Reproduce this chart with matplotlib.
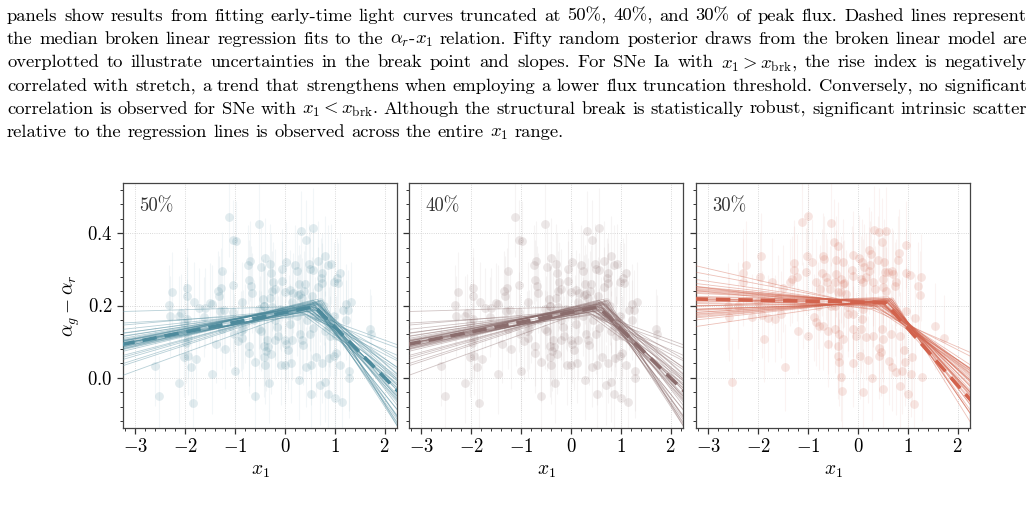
import numpy as np
import matplotlib.pyplot as plt
from matplotlib.ticker import AutoMinorLocator, MultipleLocator

plt.rcParams['font.family'] = 'serif'
plt.rcParams['font.serif'] = ['cmr10']
plt.rcParams['mathtext.fontset'] = 'cm'
plt.rcParams['axes.formatter.use_mathtext'] = True
plt.rcParams['axes.unicode_minus'] = True

W, H = 1034, 509

x1_a = [-1.125, -0.52, -1.05, -0.99, -0.71, -0.74, -1.27, -0.48, -0.73, -0.69, -0.67, -1.29, -1.35,
        -1.33, -1.05, -2.26, -1.96, -1.97, -1.82, -2.33, -1.73, -1.60, -1.50, -1.46, -0.86, -2.31,
        -2.13, -2.08, -1.96, -2.03, -1.31, -1.23, -1.04, -1.62, -0.53, -0.51, -1.99, -1.94, -2.03,
        -1.95, -1.79, -1.89, -2.60, -2.13, -2.53, -1.84, -1.47, -1.39, -1.21, -0.94, -0.86, -1.00,
        -0.73, -0.73, -0.61, -0.61, -0.89, -0.84, -0.52, -1.26, -1.02, -1.10, -0.80, -0.62,
        0.333, 0.569, 0.42, -0.406, -0.30, -0.27, -0.24, -0.06, 0.03, 0.20, 0.25, -0.05, 0.49, 0.50,
        0.57, 0.67, 0.80, 0.86, 0.93, 0.74, 0.73, 1.11, 1.05, 0.99, 1.07, 0.74, 0.67, 0.28, 0.41,
        0.10, 0.00, -0.20, -0.25, -0.30, -0.44, -0.42, 1.23, 1.33, 1.16, 1.27, 1.23, 1.70, 1.72,
        -0.47, -0.36, -0.33, -0.14, -0.20, 0.00, 0.03, 0.30, 0.35, 0.50, 0.57, 0.81, 0.91, -0.41,
        -0.38, -0.27, -0.41, -0.39, -0.07, 0.00, 0.13, 0.06, 0.28, 0.43, 0.53, 0.62, 0.74, 0.71,
        0.80, 0.52, 0.87, 1.01, 1.14, 1.10, 1.29, 1.29, 0.89, 0.99, 1.03, -0.32, 0.15, 0.37, 1.03,
        0.98, 0.91, -0.20, 0.10, 0.25, 0.45, 0.60, 0.80, -0.10, 0.15, 0.35, 0.55, 0.70, -0.35,
        -0.15, 0.17, 0.27, 0.30, 0.38, -0.42, -0.25, -0.08, 0.08, 0.33, 0.50, 0.66, 0.78, 0.88]
dy_a = [0.444, 0.426, 0.381, 0.379, 0.323, 0.313, 0.294, 0.305, 0.270, 0.254, 0.235, 0.249, 0.240,
        0.226, 0.256, 0.237, 0.248, 0.225, 0.210, 0.202, 0.193, 0.193, 0.207, 0.203, 0.211, 0.172,
        0.172, 0.178, 0.163, 0.152, 0.184, 0.187, 0.183, 0.168, 0.189, 0.171, 0.097, 0.111, 0.057,
        0.062, 0.053, 0.030, 0.032, -0.014, -0.049, -0.069, 0.011, 0.095, 0.080, 0.101, 0.109, 0.020,
        0.088, 0.069, 0.045, -0.049, 0.129, 0.134, 0.134, 0.134, 0.121, 0.143, 0.150, 0.160,
        0.406, 0.413, 0.380, 0.331, 0.315, 0.290, 0.266, 0.300, 0.321, 0.313, 0.295, 0.267, 0.315,
        0.300, 0.298, 0.323, 0.337, 0.313, 0.315, 0.290, 0.277, 0.289, 0.276, 0.266, 0.262, 0.262,
        0.252, 0.258, 0.258, 0.244, 0.238, 0.246, 0.240, 0.222, 0.217, 0.198, 0.205, 0.210, 0.187,
        0.187, 0.161, 0.136, 0.120, 0.129, 0.106, 0.086, 0.115, 0.106, 0.104, 0.095, 0.120, 0.106,
        0.120, 0.138, 0.129, 0.115, 0.087, 0.074, 0.066, 0.057, 0.037, 0.035, 0.037, 0.040, 0.076,
        -0.005, 0.030, 0.035, 0.058, 0.041, -0.020, -0.012, -0.044, -0.044, -0.055, -0.066, 0.037,
        0.018, 0.000, 0.055, 0.060, 0.069, -0.015, 0.104, 0.092, 0.115, 0.171, 0.152, 0.160, 0.150,
        0.170, 0.160, 0.170, 0.180, 0.190, 0.210, 0.220, 0.225, 0.210, 0.180, 0.140, 0.235, 0.228,
        0.232, 0.240, 0.200, 0.195, 0.185, 0.175, 0.195, 0.185, 0.165, 0.200, 0.140]

# SNe
x1_b = [-1.12, -1.00, -0.55, -0.47, -2.25, -1.95, -2.31, -2.30, -1.97, -1.73, -1.50, -1.28, -1.29,
        -1.33, -1.37, -1.23, -1.03, -0.93, -1.05, -0.70, -0.68, -0.73, -0.65, -0.63, -0.85, -0.77,
        -2.61, -2.59, -2.13, -1.93, -1.80, -1.67, -1.55, -1.89, -1.21, -1.00, -0.88, -0.85, -0.79,
        -0.70, -0.61, -0.61, -1.47, -2.52, -2.00, -1.60, -1.10, -0.80, -0.55, -2.40,
        0.32, 0.42, 0.57, 0.48, 0.96, -0.40, 0.23, 0.27, 0.82, 0.81, -0.09, 0.02, 0.09, 0.13, -0.44,
        -0.30, 0.25, 0.22, 0.40, 0.52, 0.54, -0.44, -0.45, -0.34, -0.30, -0.12, -0.09, 0.07, 0.17,
        0.11, 0.30, 0.50, 0.60, 0.68, 0.70, 0.77, 0.74, 0.96, 1.04, 1.26, 1.21, 1.24, 0.34, 0.50,
        0.57, -0.57, -0.40, -0.24, -0.27, -0.34, 0.97, 1.14, 1.55, 1.72, -0.45, -0.37, -0.30, -0.40,
        -0.20, -0.10, 0.08, -0.10, 0.07, -0.03, 0.17, 0.30, 0.48, 0.50, 0.67, 0.84, -0.39, -0.37,
        -0.09, 0.05, 0.20, 0.42, 0.47, 0.42, 0.62, 0.69, 0.77, 0.89, 0.94, 0.92, 1.09, 1.07, 1.28,
        -0.34, 0.28, -0.32, 0.11, 0.50, 0.85, 1.01, 1.13, -0.45, -0.20, 0.10, 0.30, 0.75, 0.88]
dy_b = [0.431, 0.448, 0.429, 0.374, 0.312, 0.336, 0.291, 0.264, 0.279, 0.266, 0.247, 0.317, 0.299,
        0.273, 0.264, 0.278, 0.336, 0.319, 0.293, 0.336, 0.328, 0.290, 0.280, 0.264, 0.264, 0.246,
        0.198, 0.167, 0.167, 0.174, 0.165, 0.163, 0.176, 0.108, 0.130, 0.117, 0.167, 0.154, 0.143,
        0.143, 0.130, 0.094, 0.029, -0.012, 0.210, 0.220, 0.200, 0.200, 0.200, 0.200,
        0.409, 0.404, 0.406, 0.376, 0.368, 0.365, 0.353, 0.342, 0.345, 0.326, 0.340, 0.330, 0.319,
        0.305, 0.326, 0.319, 0.312, 0.296, 0.326, 0.320, 0.293, 0.287, 0.264, 0.273, 0.259, 0.299,
        0.282, 0.273, 0.280, 0.264, 0.264, 0.273, 0.292, 0.294, 0.287, 0.264, 0.255, 0.290, 0.283,
        0.278, 0.255, 0.229, 0.245, 0.250, 0.241, 0.245, 0.236, 0.232, 0.262, 0.236, 0.186, 0.166,
        0.143, 0.110, 0.135, 0.121, 0.108, 0.089, 0.177, 0.177, 0.163, 0.135, 0.135, 0.117, 0.114,
        0.115, 0.135, 0.108, 0.122, 0.117, 0.062, 0.043, 0.040, 0.062, 0.050, 0.082, 0.071, 0.062,
        0.046, 0.029, 0.017, 0.020, 0.044, 0.076, 0.057, 0.011, 0.002, 0.002, 0.000, -0.035, -0.040,
        -0.030, -0.023, -0.044, -0.072, 0.200, 0.195, 0.190, 0.205, 0.180, 0.160]

err_a = 0.11
err_b = 0.12

# posterior draws: break point, value at the break, slope below / above the break
brk_a = [0.55, 0.62, 0.48, 0.70, 0.35, 0.58, 0.66, 0.52, 0.25, 0.60, 0.75, 0.45, 0.68, 0.56, 0.40,
         0.63, 0.50, 0.60, 0.30, 0.59, 0.64, 0.54, 0.20, 0.61, 0.67, 0.47, 0.57, 0.38, 0.65, 0.53,
         0.71, 0.44, 0.60, 0.58, 0.15, 0.69, 0.51, 0.62, 0.42, 0.56]
ybrk_a = [0.197, 0.210, 0.185, 0.204, 0.195, 0.206, 0.203, 0.186, 0.188, 0.212, 0.214, 0.196, 0.193,
          0.215, 0.190, 0.189, 0.204, 0.200, 0.180, 0.209, 0.187, 0.211, 0.186, 0.196, 0.208, 0.194,
          0.203, 0.173, 0.217, 0.191, 0.214, 0.198, 0.206, 0.197, 0.197, 0.207, 0.200, 0.195, 0.177,
          0.204]
lo_a = [0.027, 0.030, 0.024, 0.033, 0.020, 0.028, 0.036, 0.025, 0.012, 0.031, 0.045, 0.022, 0.027,
        0.034, 0.018, 0.026, 0.029, 0.050, 0.008, 0.028, 0.023, 0.032, 0.015, 0.030, 0.040, 0.021,
        0.026, 0.019, 0.035, 0.028, 0.044, 0.024, 0.027, 0.031, 0.004, 0.038, 0.025, 0.029, 0.022,
        0.027]
hi_a = [-0.15, -0.13, -0.12, -0.18, -0.10, -0.16, -0.21, -0.09, -0.07, -0.14, -0.23, -0.11, -0.20,
        -0.12, -0.09, -0.17, -0.10, -0.19, -0.06, -0.12, -0.18, -0.15, -0.05, -0.14, -0.20, -0.12,
        -0.16, -0.10, -0.17, -0.14, -0.22, -0.08, -0.13, -0.17, -0.05, -0.20, -0.13, -0.14, -0.10,
        -0.15]

brk_b = [0.50, 0.58, 0.45, 0.62, 0.35, 0.55, 0.66, 0.52, 0.30, 0.60, 0.70, 0.42, 0.64, 0.56, 0.40,
         0.59, 0.48, 0.68, 0.33, 0.54, 0.61, 0.51, 0.38, 0.57, 0.65, 0.46, 0.53, 0.36, 0.63, 0.49,
         0.67, 0.44, 0.58, 0.55, 0.28, 0.69, 0.47, 0.60, 0.41, 0.52]
ybrk_b = [0.207, 0.206, 0.210, 0.212, 0.203, 0.217, 0.214, 0.198, 0.196, 0.209, 0.221, 0.207, 0.212,
          0.215, 0.190, 0.220, 0.196, 0.217, 0.200, 0.204, 0.224, 0.199, 0.207, 0.219, 0.215, 0.209,
          0.202, 0.198, 0.212, 0.211, 0.219, 0.208, 0.208, 0.214, 0.189, 0.216, 0.210, 0.208, 0.205,
          0.204]
lo_b = [-0.003, 0.004, -0.008, 0.008, -0.016, 0.000, 0.010, -0.005, -0.032, 0.006, 0.020, -0.011,
        0.009, -0.002, -0.014, 0.003, -0.007, 0.013, -0.020, 0.001, 0.007, -0.004, -0.012, 0.002,
        0.011, -0.009, -0.001, -0.026, 0.008, -0.006, 0.015, -0.010, 0.005, -0.003, -0.018, 0.012,
        -0.007, 0.005, -0.013, 0.001]
hi_b = [-0.14, -0.13, -0.12, -0.15, -0.10, -0.15, -0.18, -0.10, -0.09, -0.14, -0.22, -0.11, -0.16,
        -0.15, -0.07, -0.17, -0.09, -0.20, -0.09, -0.11, -0.19, -0.10, -0.11, -0.16, -0.18, -0.12,
        -0.11, -0.09, -0.16, -0.13, -0.20, -0.11, -0.13, -0.15, -0.06, -0.20, -0.12, -0.14, -0.10,
        -0.15]

# median fits: break, value at break, slope below, slope above
median_50 = (0.60, 0.197, 0.027, -0.140)
median_40 = (0.55, 0.196, 0.027, -0.135)
median_30 = (0.55, 0.208, -0.0026, -0.157)

labels = ['50%', '40%', '30%']
colors = ['#4d8a9c', '#8b6d6d', '#d2634d']

caption = [
    "panels show results from fitting early-time light curves truncated at 50%, 40%, and 30% of peak flux. Dashed lines represent",
    r"the median broken linear regression fits to the $\alpha_r$-$x_1$ relation. Fifty random posterior draws from the broken linear model are",
    r"overplotted to illustrate uncertainties in the break point and slopes. For SNe Ia with $x_1>x_\mathrm{brk}$, the rise index is negatively",
    "correlated with stretch, a trend that strengthens when employing a lower flux truncation threshold. Conversely, no significant",
    r"correlation is observed for SNe with $x_1<x_\mathrm{brk}$. Although the structural break is statistically robust, significant intrinsic scatter",
    r"relative to the regression lines is observed across the entire $x_1$ range.",
]


def broken(x, xb, yb, m1, m2):
    return np.where(x < xb, yb + m1 * (x - xb), yb + m2 * (x - xb))


def draw_panel(ax, x1, dy, err, draws, median, color, label):
    ax.errorbar(x1, dy, yerr=err, fmt='none', ecolor=color, alpha=0.07, lw=0.8, zorder=1)
    ax.scatter(x1, dy, s=40, color=color, alpha=0.16, lw=0, zorder=2)
    xx = np.linspace(-3.3, 2.3, 300)
    for xb, yb, m1, m2 in zip(*draws):
        ax.plot(xx, broken(xx, xb, yb, m1, m2), color=color, lw=0.6, alpha=0.4, zorder=3)
    ax.plot(xx, broken(xx, *median), color=color, lw=2.6, ls=(0, (4, 2.2)), zorder=4)

    ax.set_xlim(-3.25, 2.25)
    ax.set_ylim(-0.138, 0.538)
    ax.xaxis.set_major_locator(MultipleLocator(1))
    ax.yaxis.set_major_locator(MultipleLocator(0.2))
    ax.xaxis.set_minor_locator(AutoMinorLocator(5))
    ax.yaxis.set_minor_locator(AutoMinorLocator(5))
    ax.tick_params(which='major', direction='out', length=4, width=0.9, labelsize=13.5, color='#333333')
    ax.tick_params(which='minor', direction='out', length=2.2, width=0.7, color='#333333')
    ax.grid(True, which='major', ls=':', lw=0.6, color='#cccccc', zorder=0)
    for s in ax.spines.values():
        s.set_color('#444444')
        s.set_linewidth(0.9)
    ax.set_xlabel(r'$x_1$', fontsize=14)
    ax.text(0.06, 0.94, label, transform=ax.transAxes, fontsize=13.5, va='top', ha='left', color='#333333')


def justify(fig, line, baseline, x0, x1, fs, last=False):
    # spread the words of one caption line over the full width, like the paper does
    r = fig.canvas.get_renderer()
    words = line.split(' ')
    texts = [fig.text(0, 1 - baseline / H, w, fontsize=fs, va='baseline', ha='left') for w in words]
    widths = [t.get_window_extent(r).width for t in texts]
    if last:
        gap = fs * 100 / 72 * 0.333
    else:
        gap = (x1 - x0 - sum(widths)) / (len(words) - 1)
    x = x0
    for t, w in zip(texts, widths):
        t.set_x(x / W)
        x += w + gap


fig = plt.figure(figsize=(W / 100, H / 100), dpi=100)

lefts = [123, 409, 696]
axes = [fig.add_axes([l / W, (H - 428) / H, 274 / W, 245 / H]) for l in lefts]

draws_a = (brk_a, ybrk_a, lo_a, hi_a)
draws_b = (brk_b, ybrk_b, lo_b, hi_b)
draw_panel(axes[0], x1_a, dy_a, err_a, draws_a, median_50, colors[0], labels[0])
draw_panel(axes[1], x1_a, dy_a, err_a, draws_a, median_40, colors[1], labels[1])
draw_panel(axes[2], x1_b, dy_b, err_b, draws_b, median_30, colors[2], labels[2])
axes[0].set_ylabel(r'$\alpha_g - \alpha_r$', fontsize=14)
axes[1].tick_params(labelleft=False)
axes[2].tick_params(labelleft=False)

for i, line in enumerate(caption):
    justify(fig, line, 20.7 + 23.3 * i, 7, 1027, 13.4, last=(i == len(caption) - 1))

fig.savefig('out.png', dpi=100)
